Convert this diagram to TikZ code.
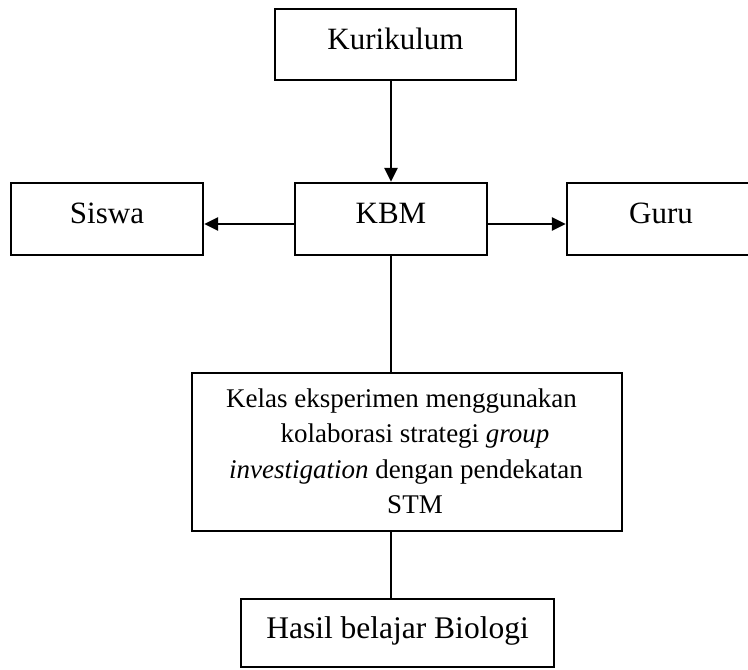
\documentclass[tikz,border=0pt]{standalone}
\usepackage{fontspec}
\setmainfont{Liberation Serif}
\usetikzlibrary{arrows.meta}
\tikzset{
  box/.style={draw=black, line width=2.2pt, rectangle, inner sep=0pt},
  lbl/.style={anchor=base, inner sep=0pt, font=\fontsize{31}{33}\selectfont},
  small/.style={anchor=base, inner sep=0pt, font=\fontsize{27}{27}\selectfont},
  arr/.style={line width=2.6pt, -{Triangle[length=14pt,width=13pt]}},
  plain/.style={line width=1.8pt}
}
\begin{document}
\begin{tikzpicture}[x=1pt,y=-1pt]
\clip (0,0) rectangle (748,670);
\fill[white] (0,0) rectangle (748,670);
% boxes
\node[box, minimum width=241pt, minimum height=71pt] (kur) at (395.5,44.5) {};
\node[box, minimum width=192pt, minimum height=72pt] (kbm) at (391,219) {};
\node[box, minimum width=192pt, minimum height=72pt] (siswa) at (107,219) {};
\node[box, minimum width=188pt, minimum height=72pt] (guru) at (661,219) {};
\node[box, minimum width=430pt, minimum height=158pt] (big) at (407,452) {};
\node[box, minimum width=313pt, minimum height=68pt] (hasil) at (397.5,633) {};
% labels
\node[lbl] (tkur) at (395.5,49) {Kurikulum};
\node[lbl] (tkbm) at (391,223) {KBM};
\node[lbl] (tsiswa) at (107,223) {Siswa};
\node[lbl] (tguru) at (661,223) {Guru};
\node[small] (l1) at (401.5,407) {Kelas eksperimen menggunakan};
\node[small] (l2) at (415,442) {kolaborasi strategi \textit{group}};
\node[small] (l3) at (406,478) {\textit{investigation} dengan pendekatan};
\node[small] (l4) at (415,513) {STM};
\node[lbl, font=\fontsize{31.5}{33}\selectfont] (thasil) at (397.5,638) {Hasil belajar Biologi};
% connectors
\draw[arr] (kur.south -| kbm.north) -- (kbm.north);
\draw[arr] ([yshift=-5pt]kbm.west) -- ([yshift=-5pt]siswa.east);
\draw[arr] ([yshift=-5pt]kbm.east) -- ([yshift=-5pt]guru.west);
\draw[plain] (kbm.south) -- (kbm.south |- big.north);
\draw[plain] (big.south -| kbm.south) -- (hasil.north -| kbm.south);
\end{tikzpicture}
\end{document}
